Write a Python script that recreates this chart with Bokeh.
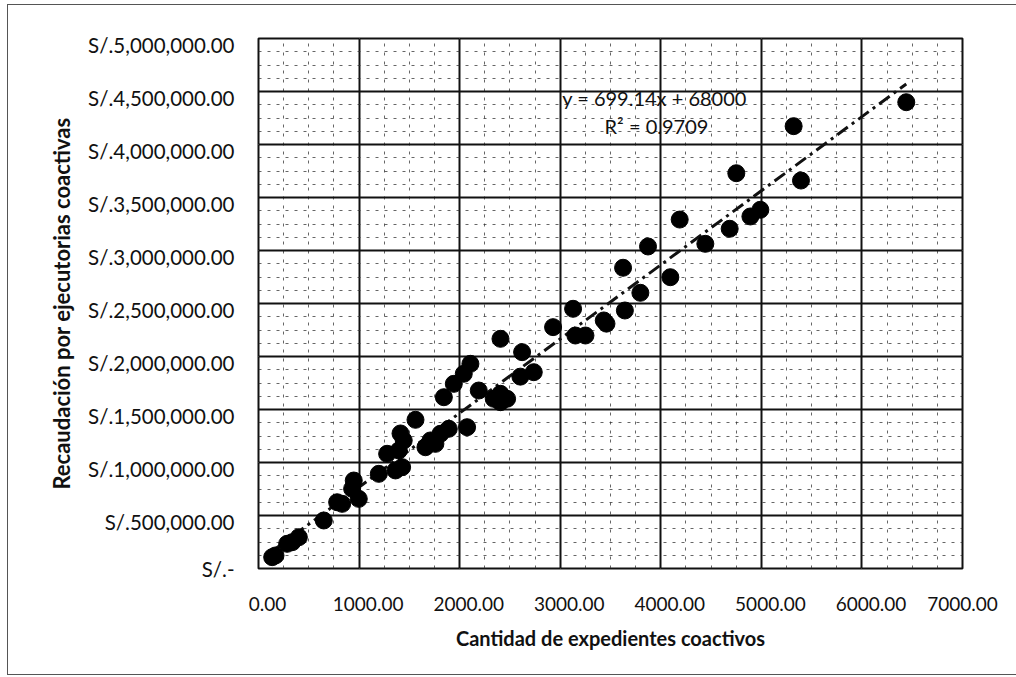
from bokeh.plotting import figure
from bokeh.models import Range1d, FixedTicker, Label, LinearAxis, Grid
from bokeh.embed import file_html
from bokeh.resources import INLINE

# Expedientes coactivos vs. recaudación (soles)
expedientes = [
    136, 169, 285, 335, 401, 649, 782, 832, 931, 947,
    997, 1196, 1279, 1362, 1428, 1395, 1444, 1412, 1561, 1660,
    1710, 1759, 1809, 1892, 2074, 1843, 1942, 2041, 2107, 2190,
    2339, 2406, 2472, 2406, 2604, 2737, 2621, 2406, 2929, 3151,
    3251, 3128, 3433, 3460, 3643, 3797, 3625, 4095, 3873, 4188,
    4443, 4685, 4891, 4990, 4751, 5394, 5321, 6441,
]
recaudacion = [
    107000, 123000, 233000, 248000, 295000, 453000, 625000, 610000, 752000, 830000,
    657000, 893000, 1082000, 925000, 956000, 1113000, 1208000, 1274000, 1403000, 1144000,
    1208000, 1176000, 1271000, 1318000, 1333000, 1616000, 1742000, 1837000, 1931000, 1679000,
    1601000, 1569000, 1601000, 1648000, 1810000, 1852000, 2041000, 2167000, 2277000, 2198000,
    2198000, 2450000, 2340000, 2310000, 2434000, 2601000, 2837000, 2748000, 3038000, 3292000,
    3063000, 3205000, 3321000, 3384000, 3729000, 3660000, 4173000, 4399000,
]

# Linear trend reported on the chart
pendiente = 699.14
intercepto = 68000
r2 = 0.9709

x_ticks = [0, 1000, 2000, 3000, 4000, 5000, 6000, 7000]
x_tick_labels = ["0.00", "1000.00", "2000.00", "3000.00", "4000.00",
                 "5000.00", "6000.00", "7000.00"]
y_ticks = [0, 500000, 1000000, 1500000, 2000000, 2500000, 3000000,
           3500000, 4000000, 4500000, 5000000]
y_tick_labels = ["S/.-", "S/.500,000.00", "S/.1,000,000.00", "S/.1,500,000.00",
                 "S/.2,000,000.00", "S/.2,500,000.00", "S/.3,000,000.00",
                 "S/.3,500,000.00", "S/.4,000,000.00", "S/.4,500,000.00",
                 "S/.5,000,000.00"]

FONT = "Lato"
X_MAX, Y_MAX = 7000, 5000000

p = figure(width=1016, height=677, output_backend="svg", toolbar_location=None,
           x_range=Range1d(0, X_MAX), y_range=Range1d(0, Y_MAX),
           x_axis_location=None, y_axis_location=None,
           min_border_left=258, min_border_right=54,
           min_border_top=38, min_border_bottom=109)
p.background_fill_color = "white"
p.border_fill_color = None
p.outline_line_color = "#111111"
p.outline_line_width = 2

# gridlines: four minor subdivisions per major interval
x_minor = [i * 250 for i in range(0, 29)]
y_minor = [i * 125000 for i in range(0, 41)]
for dim, ticks, minor in ((0, x_ticks, x_minor), (1, y_ticks, y_minor)):
    g = Grid(dimension=dim, ticker=FixedTicker(ticks=ticks, minor_ticks=minor))
    g.grid_line_color = "#111111"
    g.grid_line_width = 2
    g.minor_grid_line_color = "#333333"
    g.minor_grid_line_alpha = 0.75
    g.minor_grid_line_width = 1
    g.minor_grid_line_dash = "3 6"
    p.add_layout(g)

# tick labels sit slightly right of / below their gridlines
dx = 90       # about 9 px along x
dy = 66000    # about 7 px along y
x_lab_range = Range1d(-dx, X_MAX - dx)
y_lab_range = Range1d(dy, Y_MAX + dy)
p.extra_x_ranges = {"etiquetas": x_lab_range}
p.extra_y_ranges = {"etiquetas": y_lab_range}

# keep the outermost labels inside the label ranges
x_lab_pos = [min(v, x_lab_range.end) for v in x_ticks]
y_lab_pos = [max(v, y_lab_range.start) for v in y_ticks]

xaxis = LinearAxis(x_range_name="etiquetas", ticker=FixedTicker(ticks=x_lab_pos),
                   major_label_overrides=dict(zip(x_lab_pos, x_tick_labels)),
                   axis_label="Cantidad de expedientes coactivos")
yaxis = LinearAxis(y_range_name="etiquetas", ticker=FixedTicker(ticks=y_lab_pos),
                   major_label_overrides=dict(zip(y_lab_pos, y_tick_labels)),
                   axis_label="Recaudación por ejecutorias coactivas")

for ax in (xaxis, yaxis):
    ax.axis_line_color = None
    ax.major_tick_line_color = None
    ax.minor_tick_line_color = None
    ax.major_tick_out = 0
    ax.major_tick_in = 0
    ax.major_label_text_font = FONT
    ax.major_label_text_color = "#111111"
    ax.axis_label_text_font = FONT
    ax.axis_label_text_font_style = "bold"
    ax.axis_label_text_color = "#111111"

xaxis.major_label_text_font_size = "19px"
yaxis.major_label_text_font_size = "20.5px"
xaxis.axis_label_text_font_size = "20px"
yaxis.axis_label_text_font_size = "22px"
xaxis.major_label_standoff = 28
yaxis.major_label_standoff = 24
xaxis.axis_label_standoff = 12
yaxis.axis_label_standoff = 10
p.add_layout(xaxis, "below")
p.add_layout(yaxis, "left")

# trend line over the data span
x0, x1 = min(expedientes), max(expedientes)
p.line([x0, x1], [pendiente * x0 + intercepto, pendiente * x1 + intercepto],
       line_color="#111111", line_width=3, line_dash="13 5 3 5")

p.scatter(expedientes, recaudacion, size=17, marker="circle",
          fill_color="#000000", line_color="#000000")

eq = Label(x=3020, y=4443000, text=f"y = {pendiente}x + {intercepto}",
           text_baseline="middle",
           text_font=FONT, text_font_size="20px", text_color="#111111")
r2_label = Label(x=4473, y=4170000, text=f"R² = {r2}", text_align="right",
                 text_baseline="middle",
                 text_font=FONT, text_font_size="20px", text_color="#111111")
p.add_layout(eq)
p.add_layout(r2_label)

# thin frame (left, top, bottom) around the whole chart area, on a white page
linea = "linear-gradient(#555555, #555555)"
p.styles = {
    "background": (
        f"{linea} 7px 4px / 1px 671px no-repeat, "
        f"{linea} 7px 4px / 1009px 1px no-repeat, "
        f"{linea} 7px 674px / 1009px 1px no-repeat, white"
    )
}

with open("out.html", "w") as f:
    f.write(file_html(p, INLINE))
